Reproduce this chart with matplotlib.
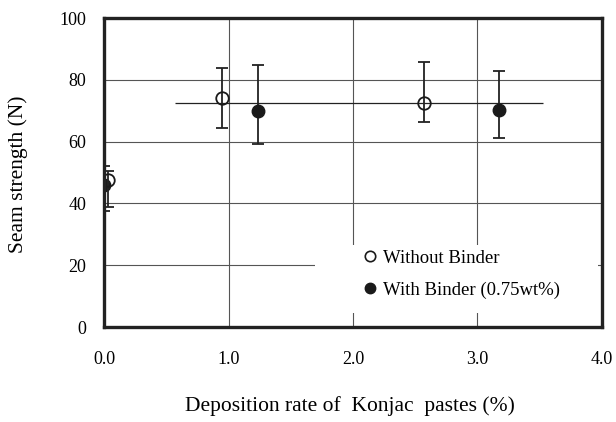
import matplotlib
matplotlib.use("Agg")
import matplotlib.pyplot as plt
from matplotlib.patches import Rectangle

plt.rcParams['font.family'] = ['Liberation Serif', 'DejaVu Serif']

# Seam strength vs. deposition rate of Konjac pastes
x_without = [0.03, 0.95, 2.57]
y_without = [47.5, 74.2, 72.6]
lo_without = [39.0, 64.4, 66.3]
hi_without = [50.5, 83.8, 85.8]

x_with = [0.0, 1.24, 3.17]
y_with = [46.0, 69.9, 70.4]
lo_with = [37.5, 59.2, 61.2]
hi_with = [52.0, 84.8, 83.0]

mean_level = 72.6
mean_span = [0.57, 3.53]

x_ticks = [0.0, 1.0, 2.0, 3.0, 4.0]
x_ticklabels = ["0.0", "1.0", "2.0", "3.0", "4.0"]
y_ticks = [0, 20, 40, 60, 80, 100]
y_ticklabels = ["0", "20", "40", "60", "80", "100"]

fig = plt.figure(figsize=(6.16, 4.22), dpi=100)
ax = fig.add_axes([0.169, 0.225, 0.808, 0.732])

ax.set_xlim(0, 4)
ax.set_ylim(0, 100)
ax.set_xticks(x_ticks)
ax.set_xticklabels(x_ticklabels)
ax.set_yticks(y_ticks)
ax.set_yticklabels(y_ticklabels)
ax.tick_params(length=0, labelsize=13)
ax.tick_params(axis='x', pad=17)
ax.tick_params(axis='y', pad=13)
ax.grid(True, color='#555555', linewidth=0.8, zorder=0)
ax.set_axisbelow(True)
for s in ax.spines.values():
    s.set_linewidth(2.4)
    s.set_color('#222222')
    s.set_zorder(6)

ax.hlines(mean_level, mean_span[0], mean_span[1], color='#222222', linewidth=0.9, zorder=2)

# white backdrop behind the key
ax.add_patch(Rectangle((1.695, 4.5), 2.275, 22.0, facecolor='white', edgecolor='none', zorder=1.5))

err_w = [[y - l for y, l in zip(y_without, lo_without)], [h - y for y, h in zip(y_without, hi_without)]]
err_f = [[y - l for y, l in zip(y_with, lo_with)], [h - y for y, h in zip(y_with, hi_with)]]

ax.errorbar(x_with, y_with, yerr=err_f, fmt='o', color='#1a1a1a', markersize=9,
            ecolor='#222222', elinewidth=1.3, capsize=4.5, capthick=1.3, zorder=4)
ax.errorbar(x_without, y_without, yerr=err_w, fmt='o', mfc='none', mec='#1a1a1a', mew=1.3,
            markersize=9, ecolor='#222222', elinewidth=1.3, capsize=4.5, capthick=1.3, zorder=5)

h1 = ax.plot([], [], 'o', mfc='none', mec='#1a1a1a', mew=1.2, markersize=7.5)[0]
h2 = ax.plot([], [], 'o', color='#1a1a1a', markersize=7.5)[0]
leg = ax.legend([h1, h2], ['Without Binder', 'With Binder (0.75wt%)'], loc='center left',
                bbox_to_anchor=(0.505, 0.171), frameon=False, fontsize=13.5,
                handlelength=0.6, handletextpad=0.35, labelspacing=0.78, borderpad=0)
leg.set_zorder(7)

ax.set_ylabel('Seam strength (N)', fontsize=15.5)
ax.yaxis.set_label_coords(-0.153, 0.495)
ax.set_xlabel('Deposition rate of  Konjac  pastes (%)', fontsize=15.5)
ax.xaxis.set_label_coords(0.494, -0.225)

fig.savefig('out.png', dpi=100)
